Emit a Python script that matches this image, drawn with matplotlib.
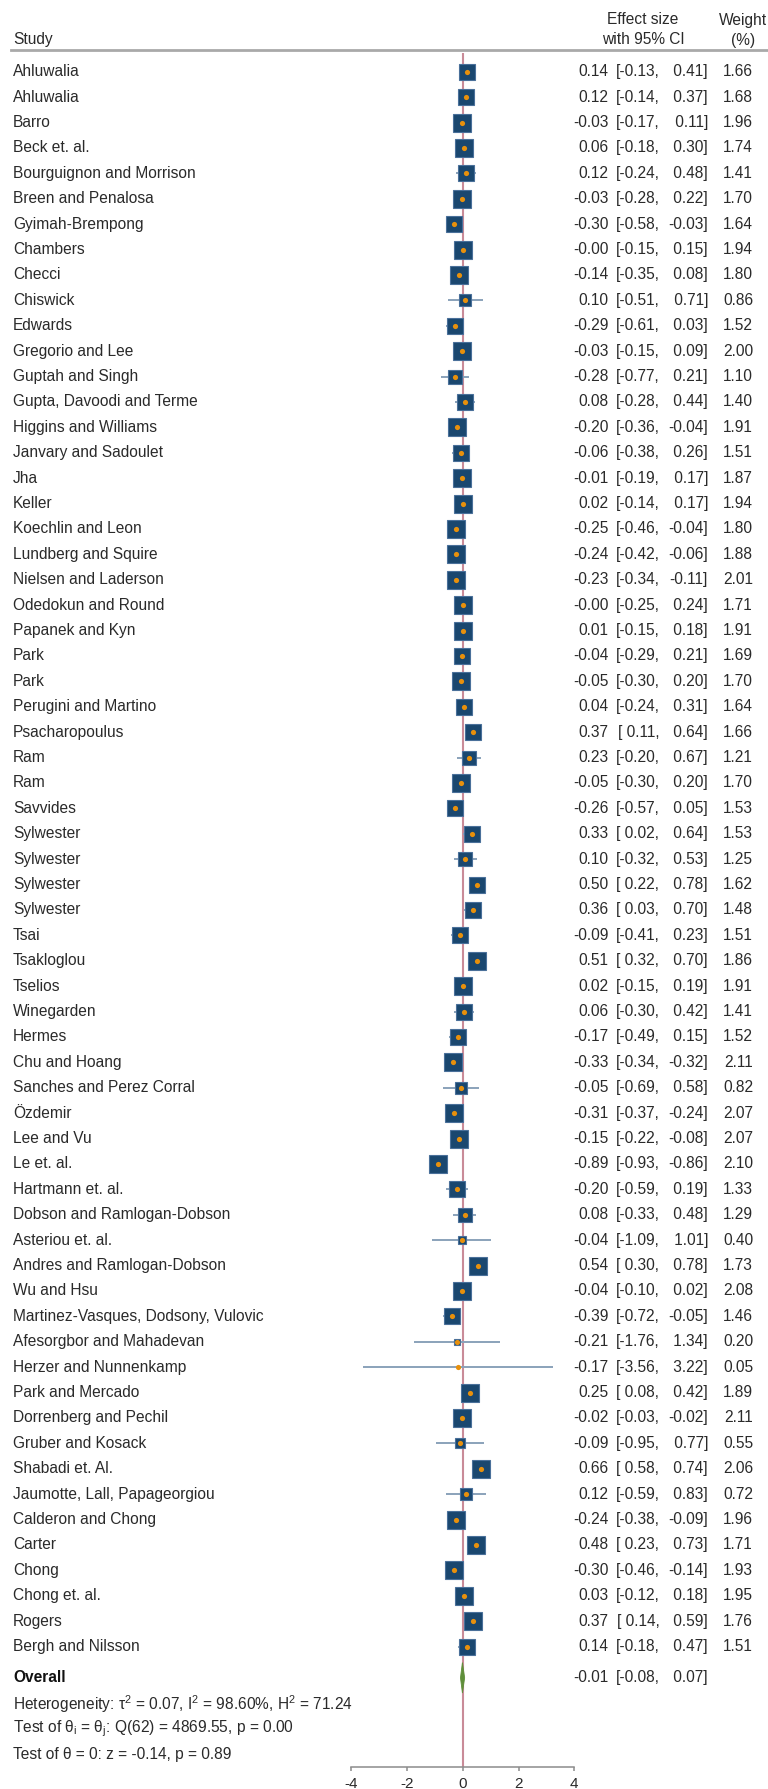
import matplotlib
matplotlib.use("Agg")
import matplotlib.pyplot as plt
from matplotlib import transforms
from matplotlib.lines import Line2D
import numpy as np

plt.rcParams["font.family"] = ["Liberation Sans", "DejaVu Sans"]
plt.rcParams["axes.unicode_minus"] = False
plt.rcParams["mathtext.fontset"] = "custom"
plt.rcParams["mathtext.rm"] = "Liberation Sans"
plt.rcParams["mathtext.it"] = "Liberation Sans:italic"
plt.rcParams["mathtext.bf"] = "Liberation Sans:bold"

# ---------------- data ----------------
studies = [
    "Ahluwalia", "Ahluwalia", "Barro", "Beck et. al.", "Bourguignon and Morrison",
    "Breen and Penalosa", "Gyimah-Brempong", "Chambers", "Checci", "Chiswick",
    "Edwards", "Gregorio and Lee", "Guptah and Singh", "Gupta, Davoodi and Terme",
    "Higgins and Williams", "Janvary and Sadoulet", "Jha", "Keller",
    "Koechlin and Leon", "Lundberg and Squire", "Nielsen and Laderson",
    "Odedokun and Round", "Papanek and Kyn", "Park", "Park", "Perugini and Martino",
    "Psacharopoulus", "Ram", "Ram", "Savvides", "Sylwester", "Sylwester",
    "Sylwester", "Sylwester", "Tsai", "Tsakloglou", "Tselios", "Winegarden",
    "Hermes", "Chu and Hoang", "Sanches and Perez Corral", "Özdemir", "Lee and Vu",
    "Le et. al.", "Hartmann et. al.", "Dobson and Ramlogan-Dobson", "Asteriou et. al.",
    "Andres and Ramlogan-Dobson", "Wu and Hsu", "Martinez-Vasques, Dodsony, Vulovic",
    "Afesorgbor and Mahadevan", "Herzer and Nunnenkamp", "Park and Mercado",
    "Dorrenberg and Pechil", "Gruber and Kosack", "Shabadi et. Al.",
    "Jaumotte, Lall, Papageorgiou", "Calderon and Chong", "Carter", "Chong",
    "Chong et. al.", "Rogers", "Bergh and Nilsson",
]
effect = [
    0.14, 0.12, -0.03, 0.06, 0.12, -0.03, -0.30, -0.0, -0.14, 0.10,
    -0.29, -0.03, -0.28, 0.08, -0.20, -0.06, -0.01, 0.02, -0.25, -0.24,
    -0.23, -0.0, 0.01, -0.04, -0.05, 0.04, 0.37, 0.23, -0.05, -0.26,
    0.33, 0.10, 0.50, 0.36, -0.09, 0.51, 0.02, 0.06, -0.17, -0.33,
    -0.05, -0.31, -0.15, -0.89, -0.20, 0.08, -0.04, 0.54, -0.04, -0.39,
    -0.21, -0.17, 0.25, -0.02, -0.09, 0.66, 0.12, -0.24, 0.48, -0.30,
    0.03, 0.37, 0.14,
]
ci_low = [
    -0.13, -0.14, -0.17, -0.18, -0.24, -0.28, -0.58, -0.15, -0.35, -0.51,
    -0.61, -0.15, -0.77, -0.28, -0.36, -0.38, -0.19, -0.14, -0.46, -0.42,
    -0.34, -0.25, -0.15, -0.29, -0.30, -0.24, 0.11, -0.20, -0.30, -0.57,
    0.02, -0.32, 0.22, 0.03, -0.41, 0.32, -0.15, -0.30, -0.49, -0.34,
    -0.69, -0.37, -0.22, -0.93, -0.59, -0.33, -1.09, 0.30, -0.10, -0.72,
    -1.76, -3.56, 0.08, -0.03, -0.95, 0.58, -0.59, -0.38, 0.23, -0.46,
    -0.12, 0.14, -0.18,
]
ci_high = [
    0.41, 0.37, 0.11, 0.30, 0.48, 0.22, -0.03, 0.15, 0.08, 0.71,
    0.03, 0.09, 0.21, 0.44, -0.04, 0.26, 0.17, 0.17, -0.04, -0.06,
    -0.11, 0.24, 0.18, 0.21, 0.20, 0.31, 0.64, 0.67, 0.20, 0.05,
    0.64, 0.53, 0.78, 0.70, 0.23, 0.70, 0.19, 0.42, 0.15, -0.32,
    0.58, -0.24, -0.08, -0.86, 0.19, 0.48, 1.01, 0.78, 0.02, -0.05,
    1.34, 3.22, 0.42, -0.02, 0.77, 0.74, 0.83, -0.09, 0.73, -0.14,
    0.18, 0.59, 0.47,
]
weights = [
    1.66, 1.68, 1.96, 1.74, 1.41, 1.70, 1.64, 1.94, 1.80, 0.86,
    1.52, 2.00, 1.10, 1.40, 1.91, 1.51, 1.87, 1.94, 1.80, 1.88,
    2.01, 1.71, 1.91, 1.69, 1.70, 1.64, 1.66, 1.21, 1.70, 1.53,
    1.53, 1.25, 1.62, 1.48, 1.51, 1.86, 1.91, 1.41, 1.52, 2.11,
    0.82, 2.07, 2.07, 2.10, 1.33, 1.29, 0.40, 1.73, 2.08, 1.46,
    0.20, 0.05, 1.89, 2.11, 0.55, 2.06, 0.72, 1.96, 1.71, 1.93,
    1.95, 1.76, 1.51,
]
overall = (-0.01, -0.08, 0.07)
stats_lines = [
    r"Heterogeneity: $\mathrm{\tau^2}$ = 0.07, $\mathrm{I^2}$ = 98.60%, $\mathrm{H^2}$ = 71.24",
    r"Test of $\mathrm{\theta_i}$ = $\mathrm{\theta_j}$: Q(62) = 4869.55, p = 0.00",
    "Test of θ = 0: z = -0.14, p = 0.89",
]
x_ticks = [-4, -2, 0, 2, 4]

# ---------------- layout ----------------
W, H = 768, 1789
fig = plt.figure(figsize=(W / 100, H / 100), dpi=100)
fig.patch.set_facecolor("white")

zero_px, unit_px = 462.7, 27.9      # horizontal scale of the forest panel
row0_px, row_px = 71.7, 25.4        # first study row and row pitch
axis_px, top_px = 1766.7, 53.0


def yrow(py):
    return (py - row0_px) / row_px


ax = fig.add_axes([(zero_px - 4 * unit_px) / W, 1 - axis_px / H,
                   8 * unit_px / W, (axis_px - top_px) / H])
ax.set_xlim(-4, 4)
ax.set_ylim(yrow(axis_px), yrow(top_px))
ax.set_facecolor("none")
for s in ("left", "top", "right"):
    ax.spines[s].set_visible(False)
ax.spines["bottom"].set_color("#8c8c8c")
ax.spines["bottom"].set_linewidth(1.1)
ax.set_yticks([])
ax.set_xticks(x_ticks)
ax.set_xticklabels([str(t) for t in x_ticks])
ax.tick_params(axis="x", direction="out", length=2.6, width=1.1,
               color="#8c8c8c", labelsize=11, labelcolor="#2a2a2a", pad=5)

rows = np.arange(len(studies))
n = len(studies)

# reference line at zero
ax.axvline(0, color="#c98b98", lw=1.5, zorder=1)

# confidence intervals, weighted squares and point estimates
ax.hlines(rows, ci_low, ci_high, color="#8aa2ba", lw=1.4, zorder=2)
for i in range(n):
    ax.plot(effect[i], rows[i], marker="s", ms=9.4 * np.sqrt(weights[i]),
            mfc="#1a476f", mec="#4a709a", mew=0.8, zorder=3, ls="none")
ax.scatter(effect, rows, s=14, color="#e8900c", zorder=4, lw=0)

# overall diamond
oy = yrow(1677.8)
es, lo, hi = overall
ax.fill([lo, es, hi, es], [oy, oy - 0.6, oy, oy + 0.6],
        color="#5f8f3a", ec="#5f8f3a", lw=0.6, zorder=3)

# ---------------- text columns ----------------
tr = transforms.blended_transform_factory(fig.transFigure, ax.transData)
txt = dict(transform=tr, fontsize=11.2, color="#2a2a2a", va="center", clip_on=False)
name_x = 13 / W
es_x, lo_x, hi_x, w_x = 608.5 / W, 659.5 / W, 708 / W, 753 / W


def ci_text(y, e, l, h):
    ax.text(es_x, y, f"{e:.2f}", ha="right", **txt)
    ax.text(lo_x, y, f"[{l:5.2f},", ha="right", **txt)
    ax.text(hi_x, y, f"{h:5.2f}]", ha="right", **txt)


for i in range(n):
    ax.text(name_x, i, studies[i], ha="left", **txt)
    ci_text(i, effect[i], ci_low[i], ci_high[i])
    ax.text(w_x, i, f"{weights[i]:.2f}", ha="right", **txt)

ax.text(name_x, oy, "Overall", ha="left", fontweight="bold",
        **{k: v for k, v in txt.items() if k != "color"}, color="#111111")
ci_text(oy, es, lo, hi)

for py, line in zip((1704.0, 1729.2, 1754.4), stats_lines):
    ax.text(name_x, yrow(py), line, ha="left", **txt)

# header
ax.text(name_x, yrow(39.5), "Study", ha="left", **txt)
ax.text(643 / W, yrow(20.0), "Effect size", ha="center", **txt)
ax.text(643 / W, yrow(40.0), "with 95% CI", ha="center", **txt)
ax.text(743 / W, yrow(20.0), "Weight", ha="center", **txt)
ax.text(743 / W, yrow(40.0), "(%)", ha="center", **txt)
fig.add_artist(Line2D([11 / W, 1.0], [1 - 50 / H, 1 - 50 / H],
                      transform=fig.transFigure, color="#a9a9a9", lw=2.0))

fig.savefig("out.png", dpi=100, facecolor="white")
